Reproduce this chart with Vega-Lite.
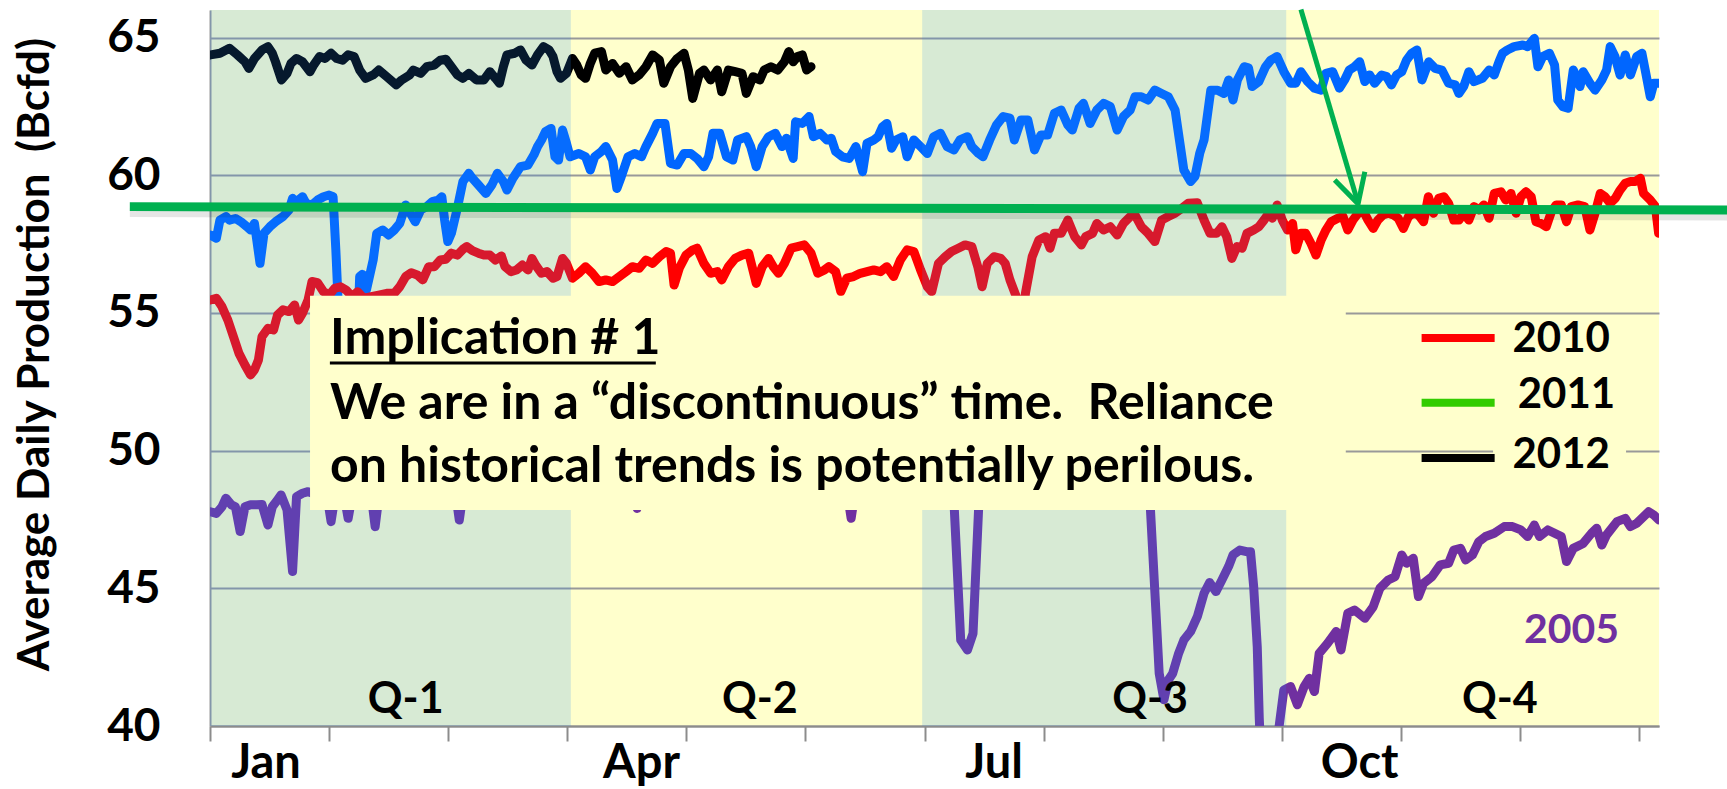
{
  "$schema": "https://vega.github.io/schema/vega-lite/v6.json",
  "autosize": {"type": "none"},
  "padding": {"left": 210, "top": 10, "right": 68, "bottom": 63},
  "width": 1449,
  "height": 716,
  "background": "white",
  "config": {
    "view": {"fill": "#FFFFCC", "stroke": null},
    "font": "Lato",
    "text": {"font": "Lato", "fontWeight": "bold"}
  },
  "datasets": {
    "production": [
      {"year":"2012","day":0.1,"v":64.37},{"year":"2012","day":2.5,"v":64.43},{"year":"2012","day":4.9,"v":64.61},{"year":"2012","day":6.9,"v":64.37},{"year":"2012","day":8.8,"v":64.12},{"year":"2012","day":9.8,"v":63.88},{"year":"2012","day":11.2,"v":64.24},{"year":"2012","day":13.1,"v":64.55},{"year":"2012","day":14.6,"v":64.67},{"year":"2012","day":15.7,"v":64.43},{"year":"2012","day":16.5,"v":64.12},{"year":"2012","day":18.0,"v":63.46},{"year":"2012","day":19.4,"v":63.70},{"year":"2012","day":20.4,"v":64.06},{"year":"2012","day":21.8,"v":64.24},{"year":"2012","day":23.3,"v":64.12},{"year":"2012","day":25.2,"v":63.76},{"year":"2012","day":26.1,"v":64.00},{"year":"2012","day":27.6,"v":64.31},{"year":"2012","day":29.0,"v":64.24},{"year":"2012","day":30.5,"v":64.43},{"year":"2012","day":31.9,"v":64.24},{"year":"2012","day":33.4,"v":64.18},{"year":"2012","day":34.8,"v":64.37},{"year":"2012","day":36.3,"v":64.31},{"year":"2012","day":37.7,"v":63.82},{"year":"2012","day":39.2,"v":63.52},{"year":"2012","day":41.1,"v":63.64},{"year":"2012","day":42.5,"v":63.82},{"year":"2012","day":44.5,"v":63.58},{"year":"2012","day":46.9,"v":63.28},{"year":"2012","day":48.3,"v":63.46},{"year":"2012","day":50.3,"v":63.64},{"year":"2012","day":51.2,"v":63.82},{"year":"2012","day":53.1,"v":63.70},{"year":"2012","day":54.6,"v":63.94},{"year":"2012","day":56.5,"v":64.00},{"year":"2012","day":58.0,"v":64.18},{"year":"2012","day":59.4,"v":64.21},{"year":"2012","day":60.8,"v":63.94},{"year":"2012","day":62.3,"v":63.64},{"year":"2012","day":63.7,"v":63.52},{"year":"2012","day":65.2,"v":63.70},{"year":"2012","day":67.1,"v":63.46},{"year":"2012","day":69.0,"v":63.46},{"year":"2012","day":70.5,"v":63.76},{"year":"2012","day":71.9,"v":63.52},{"year":"2012","day":72.9,"v":63.34},{"year":"2012","day":73.9,"v":63.94},{"year":"2012","day":74.8,"v":64.37},{"year":"2012","day":76.8,"v":64.43},{"year":"2012","day":78.2,"v":64.55},{"year":"2012","day":79.6,"v":64.18},{"year":"2012","day":81.1,"v":64.00},{"year":"2012","day":82.5,"v":64.37},{"year":"2012","day":84.0,"v":64.67},{"year":"2012","day":85.4,"v":64.55},{"year":"2012","day":86.4,"v":64.31},{"year":"2012","day":87.4,"v":63.76},{"year":"2012","day":88.3,"v":63.52},{"year":"2012","day":89.8,"v":63.70},{"year":"2012","day":91.3,"v":64.24},{"year":"2012","day":92.4,"v":64.00},{"year":"2012","day":93.5,"v":63.64},{"year":"2012","day":94.6,"v":63.52},{"year":"2012","day":95.8,"v":64.06},{"year":"2012","day":96.9,"v":64.43},{"year":"2012","day":98.6,"v":64.49},{"year":"2012","day":99.7,"v":63.82},{"year":"2012","day":101.4,"v":64.06},{"year":"2012","day":103.1,"v":63.70},{"year":"2012","day":104.8,"v":63.94},{"year":"2012","day":106.4,"v":63.46},{"year":"2012","day":108.1,"v":63.64},{"year":"2012","day":109.8,"v":63.94},{"year":"2012","day":111.5,"v":64.37},{"year":"2012","day":113.2,"v":64.18},{"year":"2012","day":114.3,"v":63.34},{"year":"2012","day":116.0,"v":63.94},{"year":"2012","day":117.7,"v":64.24},{"year":"2012","day":119.4,"v":64.43},{"year":"2012","day":120.5,"v":63.82},{"year":"2012","day":121.6,"v":62.79},{"year":"2012","day":123.3,"v":63.70},{"year":"2012","day":124.4,"v":63.82},{"year":"2012","day":126.1,"v":63.46},{"year":"2012","day":127.8,"v":63.82},{"year":"2012","day":128.9,"v":63.03},{"year":"2012","day":130.6,"v":63.82},{"year":"2012","day":132.3,"v":63.76},{"year":"2012","day":134.0,"v":63.70},{"year":"2012","day":135.1,"v":62.97},{"year":"2012","day":136.8,"v":63.58},{"year":"2012","day":138.5,"v":63.46},{"year":"2012","day":139.6,"v":63.82},{"year":"2012","day":141.3,"v":63.94},{"year":"2012","day":143.0,"v":63.82},{"year":"2012","day":144.7,"v":64.12},{"year":"2012","day":145.8,"v":64.49},{"year":"2012","day":146.9,"v":64.12},{"year":"2012","day":148.0,"v":64.31},{"year":"2012","day":149.2,"v":64.37},{"year":"2012","day":150.3,"v":63.82},{"year":"2012","day":151.4,"v":63.94},
      {"year":"2011","day":0.1,"v":57.83},{"year":"2011","day":1.6,"v":57.71},{"year":"2011","day":2.5,"v":58.37},{"year":"2011","day":4.0,"v":58.50},{"year":"2011","day":4.9,"v":58.37},{"year":"2011","day":6.4,"v":58.43},{"year":"2011","day":7.8,"v":58.31},{"year":"2011","day":9.3,"v":58.13},{"year":"2011","day":10.2,"v":58.01},{"year":"2011","day":11.2,"v":58.25},{"year":"2011","day":12.6,"v":56.80},{"year":"2011","day":13.6,"v":57.89},{"year":"2011","day":15.1,"v":58.13},{"year":"2011","day":16.5,"v":58.31},{"year":"2011","day":18.4,"v":58.50},{"year":"2011","day":19.9,"v":58.74},{"year":"2011","day":20.8,"v":59.16},{"year":"2011","day":21.8,"v":59.04},{"year":"2011","day":23.3,"v":59.22},{"year":"2011","day":24.2,"v":58.98},{"year":"2011","day":25.7,"v":58.92},{"year":"2011","day":27.1,"v":59.10},{"year":"2011","day":28.6,"v":59.22},{"year":"2011","day":30.0,"v":59.28},{"year":"2011","day":31.0,"v":59.22},{"year":"2011","day":31.7,"v":57.29},{"year":"2011","day":32.4,"v":55.0},{"year":"2011","day":33.2,"v":52.6},{"year":"2011","day":36.8,"v":52.6},{"year":"2011","day":37.7,"v":56.32},{"year":"2011","day":38.4,"v":56.40},{"year":"2011","day":39.4,"v":55.83},{"year":"2011","day":41.1,"v":56.92},{"year":"2011","day":42.0,"v":57.89},{"year":"2011","day":43.5,"v":58.01},{"year":"2011","day":45.0,"v":57.83},{"year":"2011","day":46.4,"v":58.01},{"year":"2011","day":47.8,"v":58.25},{"year":"2011","day":49.3,"v":58.92},{"year":"2011","day":50.7,"v":58.56},{"year":"2011","day":51.7,"v":58.31},{"year":"2011","day":53.1,"v":58.74},{"year":"2011","day":54.6,"v":58.86},{"year":"2011","day":56.0,"v":59.04},{"year":"2011","day":57.5,"v":59.10},{"year":"2011","day":58.4,"v":59.22},{"year":"2011","day":59.1,"v":58.37},{"year":"2011","day":59.9,"v":57.59},{"year":"2011","day":60.8,"v":57.89},{"year":"2011","day":62.3,"v":58.80},{"year":"2011","day":63.7,"v":59.77},{"year":"2011","day":65.2,"v":60.07},{"year":"2011","day":66.1,"v":59.89},{"year":"2011","day":67.6,"v":59.65},{"year":"2011","day":69.5,"v":59.34},{"year":"2011","day":71.0,"v":59.65},{"year":"2011","day":72.4,"v":60.07},{"year":"2011","day":73.9,"v":59.77},{"year":"2011","day":74.8,"v":59.46},{"year":"2011","day":76.3,"v":59.89},{"year":"2011","day":78.2,"v":60.31},{"year":"2011","day":80.1,"v":60.37},{"year":"2011","day":81.6,"v":60.74},{"year":"2011","day":82.5,"v":61.04},{"year":"2011","day":83.5,"v":61.28},{"year":"2011","day":84.5,"v":61.58},{"year":"2011","day":85.9,"v":61.70},{"year":"2011","day":86.9,"v":60.67},{"year":"2011","day":87.8,"v":60.55},{"year":"2011","day":88.8,"v":61.64},{"year":"2011","day":89.8,"v":61.16},{"year":"2011","day":90.7,"v":60.67},{"year":"2011","day":92.9,"v":60.79},{"year":"2011","day":94.6,"v":60.67},{"year":"2011","day":95.8,"v":60.19},{"year":"2011","day":96.9,"v":60.67},{"year":"2011","day":98.6,"v":60.86},{"year":"2011","day":99.7,"v":61.04},{"year":"2011","day":101.4,"v":60.55},{"year":"2011","day":102.5,"v":59.52},{"year":"2011","day":103.6,"v":59.95},{"year":"2011","day":105.3,"v":60.67},{"year":"2011","day":107.0,"v":60.79},{"year":"2011","day":108.7,"v":60.67},{"year":"2011","day":109.8,"v":61.04},{"year":"2011","day":111.5,"v":61.52},{"year":"2011","day":112.6,"v":61.88},{"year":"2011","day":114.6,"v":61.88},{"year":"2011","day":116.0,"v":60.43},{"year":"2011","day":117.7,"v":60.37},{"year":"2011","day":119.4,"v":60.79},{"year":"2011","day":121.1,"v":60.79},{"year":"2011","day":122.7,"v":60.61},{"year":"2011","day":124.4,"v":60.31},{"year":"2011","day":125.6,"v":60.67},{"year":"2011","day":126.7,"v":61.52},{"year":"2011","day":128.4,"v":61.52},{"year":"2011","day":130.1,"v":60.67},{"year":"2011","day":131.7,"v":60.55},{"year":"2011","day":132.9,"v":61.28},{"year":"2011","day":135.1,"v":61.40},{"year":"2011","day":136.2,"v":61.04},{"year":"2011","day":137.6,"v":60.31},{"year":"2011","day":139.1,"v":61.04},{"year":"2011","day":140.7,"v":61.40},{"year":"2011","day":142.4,"v":61.52},{"year":"2011","day":144.1,"v":61.04},{"year":"2011","day":145.2,"v":61.34},{"year":"2011","day":146.9,"v":60.61},{"year":"2011","day":147.5,"v":61.94},{"year":"2011","day":149.2,"v":61.88},{"year":"2011","day":150.9,"v":62.13},{"year":"2011","day":152.0,"v":61.40},{"year":"2011","day":153.7,"v":61.52},{"year":"2011","day":155.4,"v":61.28},{"year":"2011","day":156.5,"v":61.34},{"year":"2011","day":157.6,"v":60.86},{"year":"2011","day":159.3,"v":60.67},{"year":"2011","day":161.0,"v":60.61},{"year":"2011","day":162.7,"v":61.04},{"year":"2011","day":164.4,"v":60.13},{"year":"2011","day":165.5,"v":61.16},{"year":"2011","day":167.2,"v":61.28},{"year":"2011","day":168.3,"v":61.40},{"year":"2011","day":169.4,"v":61.76},{"year":"2011","day":170.5,"v":61.88},{"year":"2011","day":171.7,"v":60.98},{"year":"2011","day":172.8,"v":61.28},{"year":"2011","day":174.5,"v":61.40},{"year":"2011","day":175.6,"v":60.67},{"year":"2011","day":177.3,"v":61.28},{"year":"2011","day":179.0,"v":61.04},{"year":"2011","day":180.7,"v":60.79},{"year":"2011","day":182.3,"v":61.40},{"year":"2011","day":184.0,"v":61.52},{"year":"2011","day":185.7,"v":61.04},{"year":"2011","day":187.4,"v":60.92},{"year":"2011","day":188.9,"v":61.28},{"year":"2011","day":190.8,"v":61.40},{"year":"2011","day":191.9,"v":61.04},{"year":"2011","day":193.6,"v":60.79},{"year":"2011","day":194.7,"v":60.67},{"year":"2011","day":196.4,"v":61.28},{"year":"2011","day":198.1,"v":61.82},{"year":"2011","day":199.8,"v":62.13},{"year":"2011","day":201.5,"v":62.07},{"year":"2011","day":202.6,"v":61.28},{"year":"2011","day":204.3,"v":62.01},{"year":"2011","day":206.0,"v":62.01},{"year":"2011","day":207.7,"v":60.92},{"year":"2011","day":209.3,"v":61.46},{"year":"2011","day":211.0,"v":61.46},{"year":"2011","day":212.7,"v":62.25},{"year":"2011","day":214.4,"v":62.37},{"year":"2011","day":216.1,"v":61.82},{"year":"2011","day":217.2,"v":61.64},{"year":"2011","day":218.9,"v":62.43},{"year":"2011","day":220.0,"v":62.61},{"year":"2011","day":221.7,"v":61.88},{"year":"2011","day":223.4,"v":62.37},{"year":"2011","day":225.1,"v":62.61},{"year":"2011","day":226.8,"v":62.49},{"year":"2011","day":228.5,"v":61.64},{"year":"2011","day":230.1,"v":62.13},{"year":"2011","day":231.8,"v":62.37},{"year":"2011","day":233.0,"v":62.85},{"year":"2011","day":234.6,"v":62.85},{"year":"2011","day":236.3,"v":62.73},{"year":"2011","day":238.0,"v":63.09},{"year":"2011","day":239.7,"v":62.97},{"year":"2011","day":241.4,"v":62.85},{"year":"2011","day":243.1,"v":62.37},{"year":"2011","day":244.2,"v":61.28},{"year":"2011","day":245.3,"v":60.19},{"year":"2011","day":247.0,"v":59.77},{"year":"2011","day":248.1,"v":59.95},{"year":"2011","day":249.3,"v":60.79},{"year":"2011","day":250.4,"v":61.28},{"year":"2011","day":252.1,"v":63.09},{"year":"2011","day":253.8,"v":63.09},{"year":"2011","day":255.4,"v":62.97},{"year":"2011","day":256.6,"v":63.46},{"year":"2011","day":257.7,"v":62.73},{"year":"2011","day":258.8,"v":63.46},{"year":"2011","day":260.5,"v":63.94},{"year":"2011","day":261.6,"v":63.90},{"year":"2011","day":262.5,"v":63.22},{"year":"2011","day":264.2,"v":63.40},{"year":"2011","day":265.9,"v":63.94},{"year":"2011","day":267.2,"v":64.18},{"year":"2011","day":268.8,"v":64.31},{"year":"2011","day":270.5,"v":63.76},{"year":"2011","day":272.2,"v":63.34},{"year":"2011","day":273.5,"v":63.34},{"year":"2011","day":274.8,"v":63.76},{"year":"2011","day":276.5,"v":63.40},{"year":"2011","day":278.2,"v":63.16},{"year":"2011","day":279.9,"v":63.09},{"year":"2011","day":281.1,"v":63.70},{"year":"2011","day":282.8,"v":63.76},{"year":"2011","day":284.5,"v":63.16},{"year":"2011","day":285.8,"v":63.46},{"year":"2011","day":287.0,"v":63.82},{"year":"2011","day":288.3,"v":63.94},{"year":"2011","day":289.6,"v":64.12},{"year":"2011","day":290.9,"v":63.40},{"year":"2011","day":292.1,"v":63.64},{"year":"2011","day":293.4,"v":63.34},{"year":"2011","day":295.1,"v":63.64},{"year":"2011","day":296.4,"v":63.58},{"year":"2011","day":297.6,"v":63.28},{"year":"2011","day":298.9,"v":63.64},{"year":"2011","day":300.2,"v":63.76},{"year":"2011","day":301.4,"v":64.18},{"year":"2011","day":302.7,"v":64.43},{"year":"2011","day":304.0,"v":64.55},{"year":"2011","day":305.3,"v":63.46},{"year":"2011","day":307.0,"v":64.12},{"year":"2011","day":308.6,"v":63.88},{"year":"2011","day":310.3,"v":63.82},{"year":"2011","day":312.0,"v":63.34},{"year":"2011","day":313.7,"v":63.28},{"year":"2011","day":314.6,"v":62.97},{"year":"2011","day":315.8,"v":63.22},{"year":"2011","day":317.1,"v":63.76},{"year":"2011","day":318.4,"v":63.40},{"year":"2011","day":320.5,"v":63.52},{"year":"2011","day":322.2,"v":63.82},{"year":"2011","day":323.5,"v":63.64},{"year":"2011","day":324.7,"v":64.12},{"year":"2011","day":325.6,"v":64.43},{"year":"2011","day":326.8,"v":64.55},{"year":"2011","day":328.5,"v":64.67},{"year":"2011","day":330.7,"v":64.73},{"year":"2011","day":331.9,"v":64.67},{"year":"2011","day":333.6,"v":64.97},{"year":"2011","day":334.5,"v":63.94},{"year":"2011","day":335.7,"v":64.31},{"year":"2011","day":337.4,"v":64.43},{"year":"2011","day":338.7,"v":64.00},{"year":"2011","day":339.5,"v":62.73},{"year":"2011","day":340.8,"v":62.49},{"year":"2011","day":342.1,"v":62.43},{"year":"2011","day":343.4,"v":63.82},{"year":"2011","day":344.2,"v":63.58},{"year":"2011","day":345.1,"v":63.22},{"year":"2011","day":345.9,"v":63.76},{"year":"2011","day":347.6,"v":63.34},{"year":"2011","day":348.9,"v":63.09},{"year":"2011","day":350.6,"v":63.46},{"year":"2011","day":351.8,"v":63.82},{"year":"2011","day":352.7,"v":64.67},{"year":"2011","day":353.9,"v":64.31},{"year":"2011","day":355.2,"v":63.64},{"year":"2011","day":356.5,"v":64.37},{"year":"2011","day":357.8,"v":63.64},{"year":"2011","day":359.4,"v":64.31},{"year":"2011","day":360.7,"v":64.43},{"year":"2011","day":361.6,"v":63.76},{"year":"2011","day":362.8,"v":62.85},{"year":"2011","day":363.7,"v":63.34},{"year":"2011","day":365.0,"v":63.34},
      {"year":"2010","day":0.1,"v":55.47},{"year":"2010","day":1.6,"v":55.53},{"year":"2010","day":3.0,"v":55.23},{"year":"2010","day":4.5,"v":54.74},{"year":"2010","day":5.9,"v":54.14},{"year":"2010","day":7.3,"v":53.53},{"year":"2010","day":8.8,"v":53.11},{"year":"2010","day":10.2,"v":52.75},{"year":"2010","day":11.2,"v":52.93},{"year":"2010","day":12.2,"v":53.29},{"year":"2010","day":13.1,"v":54.14},{"year":"2010","day":14.6,"v":54.44},{"year":"2010","day":16.0,"v":54.38},{"year":"2010","day":17.0,"v":54.92},{"year":"2010","day":18.4,"v":55.11},{"year":"2010","day":19.9,"v":55.05},{"year":"2010","day":21.3,"v":55.29},{"year":"2010","day":22.3,"v":54.74},{"year":"2010","day":23.3,"v":54.99},{"year":"2010","day":24.7,"v":55.47},{"year":"2010","day":25.7,"v":56.14},{"year":"2010","day":27.1,"v":56.10},{"year":"2010","day":28.6,"v":55.77},{"year":"2010","day":30.0,"v":55.65},{"year":"2010","day":31.4,"v":55.89},{"year":"2010","day":32.9,"v":55.95},{"year":"2010","day":34.3,"v":55.83},{"year":"2010","day":35.8,"v":55.59},{"year":"2010","day":37.2,"v":55.77},{"year":"2010","day":38.7,"v":55.53},{"year":"2010","day":40.6,"v":55.59},{"year":"2010","day":42.5,"v":55.65},{"year":"2010","day":44.5,"v":55.71},{"year":"2010","day":46.4,"v":55.71},{"year":"2010","day":47.8,"v":55.95},{"year":"2010","day":49.3,"v":56.32},{"year":"2010","day":50.7,"v":56.46},{"year":"2010","day":52.2,"v":56.38},{"year":"2010","day":53.6,"v":56.20},{"year":"2010","day":55.1,"v":56.68},{"year":"2010","day":56.5,"v":56.68},{"year":"2010","day":58.0,"v":56.92},{"year":"2010","day":59.4,"v":56.95},{"year":"2010","day":60.8,"v":57.17},{"year":"2010","day":62.3,"v":57.10},{"year":"2010","day":63.7,"v":57.31},{"year":"2010","day":64.7,"v":57.41},{"year":"2010","day":66.1,"v":57.26},{"year":"2010","day":67.6,"v":57.17},{"year":"2010","day":69.0,"v":57.10},{"year":"2010","day":70.5,"v":57.10},{"year":"2010","day":71.9,"v":56.92},{"year":"2010","day":73.4,"v":57.07},{"year":"2010","day":74.3,"v":56.68},{"year":"2010","day":75.8,"v":56.50},{"year":"2010","day":77.2,"v":56.56},{"year":"2010","day":78.7,"v":56.74},{"year":"2010","day":80.1,"v":56.56},{"year":"2010","day":81.1,"v":56.98},{"year":"2010","day":82.0,"v":56.74},{"year":"2010","day":83.5,"v":56.44},{"year":"2010","day":84.9,"v":56.50},{"year":"2010","day":86.4,"v":56.26},{"year":"2010","day":87.4,"v":56.32},{"year":"2010","day":88.8,"v":56.98},{"year":"2010","day":89.8,"v":56.80},{"year":"2010","day":91.3,"v":56.26},{"year":"2010","day":92.9,"v":56.44},{"year":"2010","day":94.6,"v":56.68},{"year":"2010","day":96.3,"v":56.44},{"year":"2010","day":98.0,"v":56.14},{"year":"2010","day":99.7,"v":56.20},{"year":"2010","day":101.4,"v":56.14},{"year":"2010","day":103.1,"v":56.32},{"year":"2010","day":104.8,"v":56.50},{"year":"2010","day":106.4,"v":56.68},{"year":"2010","day":108.1,"v":56.62},{"year":"2010","day":109.8,"v":56.92},{"year":"2010","day":111.5,"v":56.80},{"year":"2010","day":113.2,"v":57.04},{"year":"2010","day":114.9,"v":57.23},{"year":"2010","day":116.0,"v":57.17},{"year":"2010","day":116.9,"v":56.01},{"year":"2010","day":118.2,"v":56.62},{"year":"2010","day":119.9,"v":57.10},{"year":"2010","day":121.6,"v":57.29},{"year":"2010","day":122.7,"v":57.35},{"year":"2010","day":124.4,"v":56.80},{"year":"2010","day":126.1,"v":56.44},{"year":"2010","day":127.8,"v":56.50},{"year":"2010","day":128.9,"v":56.20},{"year":"2010","day":130.6,"v":56.68},{"year":"2010","day":132.3,"v":56.98},{"year":"2010","day":134.0,"v":57.10},{"year":"2010","day":135.7,"v":57.17},{"year":"2010","day":137.6,"v":56.07},{"year":"2010","day":139.1,"v":56.68},{"year":"2010","day":140.7,"v":56.98},{"year":"2010","day":141.9,"v":56.68},{"year":"2010","day":143.2,"v":56.44},{"year":"2010","day":144.7,"v":56.80},{"year":"2010","day":146.4,"v":57.35},{"year":"2010","day":148.0,"v":57.41},{"year":"2010","day":149.7,"v":57.47},{"year":"2010","day":151.4,"v":57.17},{"year":"2010","day":153.1,"v":56.44},{"year":"2010","day":154.8,"v":56.56},{"year":"2010","day":155.9,"v":56.68},{"year":"2010","day":157.6,"v":56.50},{"year":"2010","day":158.9,"v":55.77},{"year":"2010","day":160.4,"v":56.26},{"year":"2010","day":162.1,"v":56.32},{"year":"2010","day":163.8,"v":56.44},{"year":"2010","day":165.5,"v":56.50},{"year":"2010","day":167.2,"v":56.56},{"year":"2010","day":168.9,"v":56.50},{"year":"2010","day":170.5,"v":56.68},{"year":"2010","day":172.2,"v":56.32},{"year":"2010","day":173.9,"v":56.92},{"year":"2010","day":175.6,"v":57.29},{"year":"2010","day":177.3,"v":57.23},{"year":"2010","day":179.0,"v":56.56},{"year":"2010","day":180.7,"v":55.95},{"year":"2010","day":181.8,"v":55.77},{"year":"2010","day":183.5,"v":56.80},{"year":"2010","day":185.2,"v":57.04},{"year":"2010","day":186.8,"v":57.23},{"year":"2010","day":188.5,"v":57.35},{"year":"2010","day":190.2,"v":57.47},{"year":"2010","day":191.9,"v":57.41},{"year":"2010","day":193.4,"v":56.68},{"year":"2010","day":194.5,"v":55.95},{"year":"2010","day":195.8,"v":56.80},{"year":"2010","day":197.5,"v":57.04},{"year":"2010","day":199.2,"v":56.98},{"year":"2010","day":200.3,"v":56.80},{"year":"2010","day":201.5,"v":56.20},{"year":"2010","day":203.1,"v":55.59},{"year":"2010","day":203.8,"v":54.2},{"year":"2010","day":204.6,"v":54.2},{"year":"2010","day":205.4,"v":55.71},{"year":"2010","day":207.1,"v":57.04},{"year":"2010","day":208.8,"v":57.65},{"year":"2010","day":210.5,"v":57.77},{"year":"2010","day":211.6,"v":57.35},{"year":"2010","day":212.7,"v":57.89},{"year":"2010","day":214.4,"v":57.89},{"year":"2010","day":216.1,"v":58.37},{"year":"2010","day":217.8,"v":57.77},{"year":"2010","day":219.5,"v":57.47},{"year":"2010","day":220.6,"v":57.77},{"year":"2010","day":222.3,"v":57.89},{"year":"2010","day":223.4,"v":58.25},{"year":"2010","day":225.1,"v":58.01},{"year":"2010","day":226.8,"v":58.13},{"year":"2010","day":228.5,"v":57.83},{"year":"2010","day":230.1,"v":58.25},{"year":"2010","day":231.8,"v":58.50},{"year":"2010","day":233.0,"v":58.56},{"year":"2010","day":234.6,"v":58.13},{"year":"2010","day":236.3,"v":57.89},{"year":"2010","day":238.0,"v":57.59},{"year":"2010","day":239.7,"v":58.37},{"year":"2010","day":241.4,"v":58.50},{"year":"2010","day":243.1,"v":58.62},{"year":"2010","day":244.8,"v":58.80},{"year":"2010","day":246.4,"v":58.98},{"year":"2010","day":248.7,"v":59.00},{"year":"2010","day":250.4,"v":58.37},{"year":"2010","day":251.9,"v":57.89},{"year":"2010","day":253.6,"v":57.89},{"year":"2010","day":254.9,"v":58.13},{"year":"2010","day":256.1,"v":57.77},{"year":"2010","day":257.4,"v":56.98},{"year":"2010","day":258.7,"v":57.41},{"year":"2010","day":260.0,"v":57.35},{"year":"2010","day":261.2,"v":57.89},{"year":"2010","day":262.9,"v":58.01},{"year":"2010","day":264.2,"v":58.13},{"year":"2010","day":265.5,"v":58.37},{"year":"2010","day":266.7,"v":58.62},{"year":"2010","day":267.6,"v":58.44},{"year":"2010","day":268.8,"v":58.92},{"year":"2010","day":270.1,"v":58.37},{"year":"2010","day":271.4,"v":58.01},{"year":"2010","day":272.7,"v":58.25},{"year":"2010","day":273.5,"v":57.29},{"year":"2010","day":274.8,"v":57.89},{"year":"2010","day":276.0,"v":57.89},{"year":"2010","day":277.3,"v":57.53},{"year":"2010","day":278.6,"v":57.10},{"year":"2010","day":279.9,"v":57.65},{"year":"2010","day":281.1,"v":58.01},{"year":"2010","day":282.4,"v":58.31},{"year":"2010","day":284.1,"v":58.44},{"year":"2010","day":285.4,"v":58.50},{"year":"2010","day":286.6,"v":58.01},{"year":"2010","day":287.9,"v":58.37},{"year":"2010","day":289.2,"v":58.62},{"year":"2010","day":290.4,"v":58.74},{"year":"2010","day":291.7,"v":58.37},{"year":"2010","day":293.0,"v":58.07},{"year":"2010","day":294.2,"v":58.37},{"year":"2010","day":295.5,"v":58.56},{"year":"2010","day":296.8,"v":58.62},{"year":"2010","day":298.1,"v":58.56},{"year":"2010","day":299.3,"v":58.44},{"year":"2010","day":300.6,"v":58.07},{"year":"2010","day":301.9,"v":58.50},{"year":"2010","day":303.1,"v":58.62},{"year":"2010","day":304.4,"v":58.56},{"year":"2010","day":305.7,"v":58.31},{"year":"2010","day":306.9,"v":59.22},{"year":"2010","day":308.2,"v":58.62},{"year":"2010","day":309.5,"v":59.16},{"year":"2010","day":310.8,"v":59.22},{"year":"2010","day":312.0,"v":58.98},{"year":"2010","day":313.3,"v":58.37},{"year":"2010","day":314.6,"v":58.37},{"year":"2010","day":315.8,"v":58.62},{"year":"2010","day":317.1,"v":58.37},{"year":"2010","day":318.4,"v":58.86},{"year":"2010","day":319.7,"v":58.74},{"year":"2010","day":320.9,"v":58.92},{"year":"2010","day":322.2,"v":58.44},{"year":"2010","day":323.5,"v":59.34},{"year":"2010","day":325.2,"v":59.40},{"year":"2010","day":326.4,"v":59.10},{"year":"2010","day":327.7,"v":59.34},{"year":"2010","day":329.0,"v":58.62},{"year":"2010","day":330.2,"v":59.22},{"year":"2010","day":331.5,"v":59.40},{"year":"2010","day":332.8,"v":59.22},{"year":"2010","day":334.0,"v":58.31},{"year":"2010","day":335.3,"v":58.25},{"year":"2010","day":336.6,"v":58.13},{"year":"2010","day":337.9,"v":58.68},{"year":"2010","day":339.1,"v":58.92},{"year":"2010","day":340.4,"v":58.92},{"year":"2010","day":341.7,"v":58.31},{"year":"2010","day":342.9,"v":58.86},{"year":"2010","day":344.6,"v":58.92},{"year":"2010","day":346.3,"v":58.86},{"year":"2010","day":347.6,"v":58.01},{"year":"2010","day":348.9,"v":58.62},{"year":"2010","day":350.2,"v":59.34},{"year":"2010","day":351.4,"v":59.22},{"year":"2010","day":352.7,"v":58.98},{"year":"2010","day":354.0,"v":59.16},{"year":"2010","day":355.2,"v":59.46},{"year":"2010","day":356.5,"v":59.71},{"year":"2010","day":357.8,"v":59.77},{"year":"2010","day":359.0,"v":59.77},{"year":"2010","day":360.3,"v":59.89},{"year":"2010","day":361.1,"v":59.34},{"year":"2010","day":362.8,"v":59.10},{"year":"2010","day":364.1,"v":58.86},{"year":"2010","day":364.9,"v":57.89},
      {"year":"2005","day":0.1,"v":47.78},{"year":"2005","day":1.6,"v":47.72},{"year":"2005","day":3.0,"v":47.96},{"year":"2005","day":4.0,"v":48.27},{"year":"2005","day":5.4,"v":48.03},{"year":"2005","day":6.4,"v":47.96},{"year":"2005","day":7.6,"v":47.06},{"year":"2005","day":8.8,"v":47.96},{"year":"2005","day":10.2,"v":48.03},{"year":"2005","day":11.7,"v":48.03},{"year":"2005","day":13.1,"v":48.04},{"year":"2005","day":14.6,"v":47.30},{"year":"2005","day":15.7,"v":47.96},{"year":"2005","day":17.0,"v":48.21},{"year":"2005","day":17.9,"v":48.39},{"year":"2005","day":19.4,"v":47.85},{"year":"2005","day":20.8,"v":45.61},{"year":"2005","day":21.8,"v":48.33},{"year":"2005","day":23.3,"v":48.45},{"year":"2005","day":24.7,"v":48.51},{"year":"2005","day":27.0,"v":48.4},{"year":"2005","day":29.5,"v":48.35},{"year":"2005","day":30.5,"v":47.42},{"year":"2005","day":31.5,"v":48.35},{"year":"2005","day":33.8,"v":48.35},{"year":"2005","day":34.8,"v":47.54},{"year":"2005","day":35.8,"v":48.35},{"year":"2005","day":40.6,"v":48.4},{"year":"2005","day":41.6,"v":47.24},{"year":"2005","day":42.6,"v":48.4},{"year":"2005","day":50.0,"v":48.5},{"year":"2005","day":61.8,"v":48.5},{"year":"2005","day":62.8,"v":47.48},{"year":"2005","day":63.8,"v":48.5},{"year":"2005","day":80.0,"v":48.6},{"year":"2005","day":106.8,"v":48.5},{"year":"2005","day":107.6,"v":47.9},{"year":"2005","day":108.4,"v":48.5},{"year":"2005","day":130.0,"v":48.6},{"year":"2005","day":160.5,"v":48.5},{"year":"2005","day":161.5,"v":47.54},{"year":"2005","day":162.5,"v":48.5},{"year":"2005","day":186.8,"v":48.5},{"year":"2005","day":187.5,"v":47.85},{"year":"2005","day":189.1,"v":43.12},{"year":"2005","day":190.8,"v":42.76},{"year":"2005","day":192.2,"v":43.36},{"year":"2005","day":193.6,"v":47.85},{"year":"2005","day":194.3,"v":48.5},{"year":"2005","day":236.2,"v":48.5},{"year":"2005","day":236.9,"v":47.85},{"year":"2005","day":238.3,"v":44.09},{"year":"2005","day":239.1,"v":41.91},{"year":"2005","day":240.3,"v":40.95},{"year":"2005","day":241.4,"v":41.67},{"year":"2005","day":242.5,"v":41.91},{"year":"2005","day":244.0,"v":42.64},{"year":"2005","day":245.3,"v":43.12},{"year":"2005","day":247.0,"v":43.43},{"year":"2005","day":248.7,"v":43.97},{"year":"2005","day":250.4,"v":44.82},{"year":"2005","day":251.8,"v":45.21},{"year":"2005","day":253.4,"v":44.88},{"year":"2005","day":254.9,"v":45.30},{"year":"2005","day":256.6,"v":45.80},{"year":"2005","day":257.7,"v":46.21},{"year":"2005","day":259.4,"v":46.39},{"year":"2005","day":261.1,"v":46.33},{"year":"2005","day":262.1,"v":46.33},{"year":"2005","day":262.9,"v":45.06},{"year":"2005","day":263.8,"v":42.88},{"year":"2005","day":264.3,"v":40.3},{"year":"2005","day":265.0,"v":38.0},{"year":"2005","day":268.6,"v":38.0},{"year":"2005","day":269.3,"v":39.98},{"year":"2005","day":270.5,"v":41.31},{"year":"2005","day":272.2,"v":41.43},{"year":"2005","day":273.9,"v":40.77},{"year":"2005","day":275.6,"v":41.43},{"year":"2005","day":276.9,"v":41.73},{"year":"2005","day":278.2,"v":41.25},{"year":"2005","day":279.4,"v":42.64},{"year":"2005","day":281.5,"v":43.00},{"year":"2005","day":283.7,"v":43.43},{"year":"2005","day":284.9,"v":42.76},{"year":"2005","day":286.6,"v":44.09},{"year":"2005","day":288.3,"v":44.21},{"year":"2005","day":290.9,"v":43.91},{"year":"2005","day":293.0,"v":44.33},{"year":"2005","day":294.7,"v":45.00},{"year":"2005","day":296.8,"v":45.30},{"year":"2005","day":298.5,"v":45.42},{"year":"2005","day":300.2,"v":46.21},{"year":"2005","day":301.4,"v":45.91},{"year":"2005","day":303.1,"v":46.09},{"year":"2005","day":304.4,"v":44.70},{"year":"2005","day":305.7,"v":45.18},{"year":"2005","day":307.8,"v":45.42},{"year":"2005","day":309.9,"v":45.85},{"year":"2005","day":312.0,"v":45.91},{"year":"2005","day":313.3,"v":46.39},{"year":"2005","day":315.0,"v":46.45},{"year":"2005","day":316.3,"v":46.03},{"year":"2005","day":318.0,"v":46.21},{"year":"2005","day":319.6,"v":46.69},{"year":"2005","day":321.3,"v":46.88},{"year":"2005","day":323.5,"v":47.00},{"year":"2005","day":326.0,"v":47.24},{"year":"2005","day":328.1,"v":47.24},{"year":"2005","day":330.2,"v":47.12},{"year":"2005","day":331.9,"v":46.88},{"year":"2005","day":333.6,"v":47.30},{"year":"2005","day":334.9,"v":46.88},{"year":"2005","day":337.0,"v":47.12},{"year":"2005","day":338.7,"v":47.00},{"year":"2005","day":340.4,"v":46.88},{"year":"2005","day":341.7,"v":45.97},{"year":"2005","day":343.4,"v":46.45},{"year":"2005","day":345.9,"v":46.63},{"year":"2005","day":348.0,"v":47.00},{"year":"2005","day":349.3,"v":47.18},{"year":"2005","day":350.6,"v":46.57},{"year":"2005","day":351.8,"v":46.94},{"year":"2005","day":354.4,"v":47.42},{"year":"2005","day":356.5,"v":47.54},{"year":"2005","day":357.8,"v":47.24},{"year":"2005","day":359.4,"v":47.36},{"year":"2005","day":360.7,"v":47.54},{"year":"2005","day":362.4,"v":47.78},{"year":"2005","day":363.7,"v":47.66},{"year":"2005","day":365.0,"v":47.48}
    ],
    "quarterShade": [
      {"q":"Q-1","day":0,"day2":90.9,"v":40,"v2":66},
      {"q":"Q-3","day":179.4,"day2":271.1,"v":40,"v2":66}
    ],
    "panels": [
      {"panel":"note box","day":25.2,"day2":286.1,"v":47.84,"v2":55.62},
      {"panel":"2012 label","day":323.2,"day2":356.7,"v":49.45,"v2":50.35}
    ],
    "level": [
      {"day":-20.2,"v":58.86},
      {"day":385,"v":58.74}
    ],
    "arrow": [
      {"part":"shaft","day":274.8,"v":66.02},
      {"part":"shaft","day":289.2,"v":58.98},
      {"part":"head","day":283.3,"v":59.83},
      {"part":"head","day":289.2,"v":58.96},
      {"part":"head","day":290.9,"v":60.13}
    ],
    "underline": [
      {"day":30.2,"day2":112.3,"v":53.18}
    ],
    "legendKeys": [
      {"entry":"2010","day":305.2,"day2":323.6,"v":54.09},
      {"entry":"2011","day":305.2,"day2":323.6,"v":51.74},
      {"entry":"2012","day":305.2,"day2":323.6,"v":49.73}
    ],
    "legendLabels": [
      {"label":"2010","day":328.1,"v":53.58},
      {"label":"2011","day":329.4,"v":51.55},
      {"label":"2012","day":328.1,"v":49.37}
    ],
    "noteText": [
      {"label":"Implication # 1","day":30.23,"v":53.51},
      {"label":"We are in a “discontinuous” time.\u00a0 Reliance","day":30.23,"v":51.15},
      {"label":"on historical trends is potentially perilous.","day":30.23,"v":48.86}
    ],
    "quarterLabels": [
      {"label":"Q-1","day":49.3,"v":40.47},
      {"label":"Q-2","day":138.5,"v":40.47},
      {"label":"Q-3","day":236.8,"v":40.47},
      {"label":"Q-4","day":324.9,"v":40.47}
    ],
    "monthLabels": [
      {"label":"Jan","day":14.1,"v":38.11},
      {"label":"Apr","day":108.7,"v":38.11},
      {"label":"Jul","day":197.5,"v":38.11},
      {"label":"Oct","day":289.6,"v":38.11}
    ],
    "seriesNote": [
      {"label":"2005","day":331.0,"v":43.02}
    ]
  },
  "encoding": {
    "x": {
      "field": "day", "type": "quantitative",
      "scale": {"domain": [0, 365], "nice": false, "zero": false},
      "axis": {
        "title": null, "values": [0,30,60,90,120,150,180,210,240,270,300,330,360],
        "labels": false, "grid": false, "ticks": true, "tickSize": 15, "tickWidth": 2,
        "tickColor": "#8c8c8c", "domainColor": "#8c8c8c", "domainWidth": 2
      }
    },
    "y": {
      "field": "v", "type": "quantitative",
      "scale": {"domain": [40, 66], "nice": false, "zero": false},
      "axis": {
        "title": "Average Daily Production \u00a0(Bcfd)",
        "values": [40,45,50,55,60,65],
        "grid": true, "gridColor": "#999999", "gridWidth": 2,
        "ticks": false, "tickSize": 0,
        "domainColor": "#999999", "domainWidth": 2,
        "labelFont": "Lato", "labelFontSize": 46, "labelFontWeight": "bold", "labelColor": "#000000",
        "labelPadding": 50,
        "titleFont": "Lato", "titleFontSize": 44, "titleFontWeight": "bold", "titleColor": "#000000",
        "titleX": -162, "titleY": 344, "titleAngle": -90, "titleAlign": "center", "titleBaseline": "alphabetic"
      }
    }
  },
  "layer": [
    {
      "data": {"name": "production"},
      "mark": {"type": "line", "clip": true, "strokeWidth": 9, "strokeJoin": "round", "strokeCap": "round"},
      "encoding": {
        "color": {"field": "year", "type": "nominal", "legend": null,
          "scale": {"domain": ["2005","2010","2011","2012"], "range": ["#7030A0","#FF0000","#0066FF","#000000"]}}
      }
    },
    {
      "data": {"name": "quarterShade"},
      "mark": {"type": "rect", "fill": "#208DF9", "opacity": 0.18},
      "encoding": {"x2": {"field": "day2"}, "y2": {"field": "v2"}}
    },
    {
      "data": {"name": "panels"},
      "mark": {"type": "rect", "fill": "#FFFFCC"},
      "encoding": {"x2": {"field": "day2"}, "y2": {"field": "v2"}}
    },
    {
      "data": {"name": "level"},
      "mark": {"type": "line", "color": "#000000", "opacity": 0.1, "strokeWidth": 9, "yOffset": 6, "strokeCap": "butt"},
      "encoding": {}
    },
    {
      "data": {"name": "level"},
      "mark": {"type": "line", "color": "#00B050", "strokeWidth": 9, "strokeCap": "butt"},
      "encoding": {}
    },
    {
      "data": {"name": "arrow"},
      "mark": {"type": "line", "color": "#00B050", "strokeWidth": 5, "strokeCap": "butt", "strokeJoin": "miter"},
      "encoding": {"detail": {"field": "part"}}
    },
    {
      "data": {"name": "underline"},
      "mark": {"type": "rule", "color": "#000000", "strokeWidth": 3},
      "encoding": {"x2": {"field": "day2"}}
    },
    {
      "data": {"name": "legendKeys"},
      "mark": {"type": "rule", "strokeWidth": 8},
      "encoding": {
        "x2": {"field": "day2"},
        "color": {"field": "entry", "type": "nominal", "legend": null,
          "scale": {"domain": ["2010","2011","2012"], "range": ["#FF0000","#33CC00","#000000"]}}
      }
    },
    {
      "data": {"name": "legendLabels"},
      "mark": {"type": "text", "align": "left", "baseline": "alphabetic", "fontSize": 42, "color": "#000000"},
      "encoding": {"text": {"field": "label"}}
    },
    {
      "data": {"name": "noteText"},
      "mark": {"type": "text", "align": "left", "baseline": "alphabetic", "fontSize": 50, "color": "#000000"},
      "encoding": {"text": {"field": "label"}}
    },
    {
      "data": {"name": "quarterLabels"},
      "mark": {"type": "text", "align": "center", "baseline": "alphabetic", "fontSize": 43, "color": "#000000"},
      "encoding": {"text": {"field": "label"}}
    },
    {
      "data": {"name": "monthLabels"},
      "mark": {"type": "text", "align": "center", "baseline": "alphabetic", "fontSize": 47, "color": "#000000"},
      "encoding": {"text": {"field": "label"}}
    },
    {
      "data": {"name": "seriesNote"},
      "mark": {"type": "text", "align": "left", "baseline": "alphabetic", "fontSize": 41, "color": "#7030A0"},
      "encoding": {"text": {"field": "label"}}
    }
  ],
  "resolve": {"scale": {"color": "independent"}}
}
